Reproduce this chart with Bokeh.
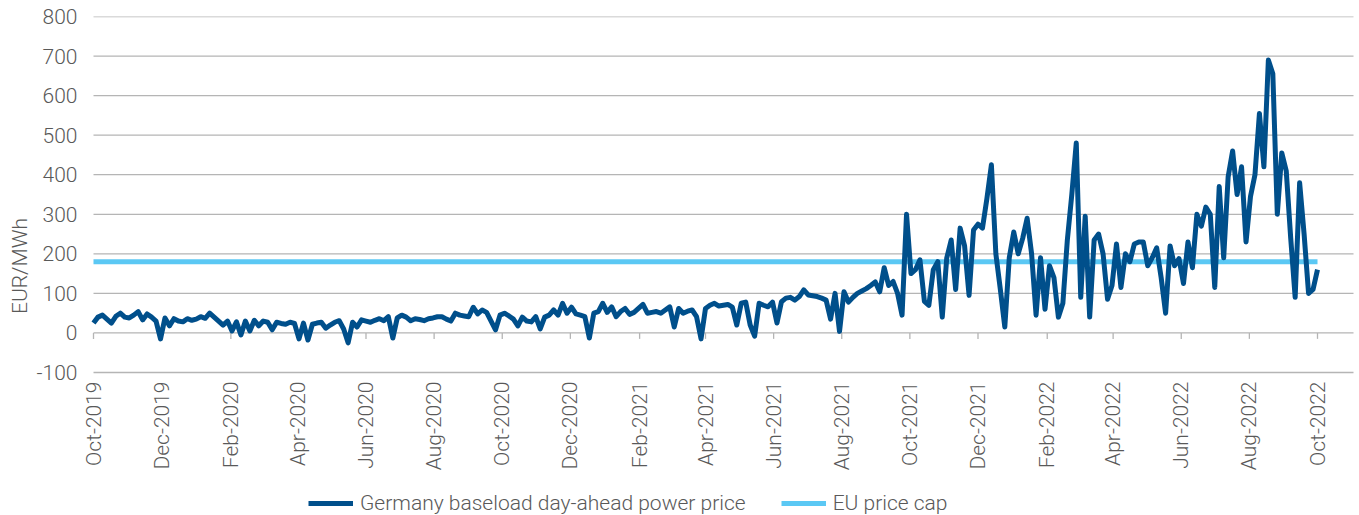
import math
import pandas as pd
from bokeh.plotting import figure
from bokeh.models import Range1d, FixedTicker, Legend, LegendItem, Title
from bokeh.core.properties import value
from bokeh.embed import file_html
from bokeh.resources import INLINE

# ---- data ----
start_date = "2019-10-01"
step_days = 4  # one reading every 4 days
price = [
    25, 40, 45, 35, 25, 42, 50, 40, 38, 45,
    54, 33, 48, 40, 30, -15, 38, 18, 36, 30,
    28, 36, 32, 35, 41, 37, 50, 40, 30, 20,
    30, 5, 28, -5, 30, 5, 32, 18, 30, 27,
    8, 27, 24, 22, 27, 24, -15, 25, -18, 22,
    25, 27, 12, 20, 27, 31, 10, -25, 27, 15,
    33, 30, 27, 32, 36, 31, 41, -13, 38, 45,
    40, 31, 36, 34, 31, 36, 38, 41, 41, 35,
    30, 50, 45, 43, 41, 65, 48, 58, 52, 30,
    8, 45, 50, 43, 35, 18, 40, 30,
    28, 41, 10, 40, 45, 58, 45, 75, 50, 65,
    48, 45, 41, -13, 50, 54, 75, 52, 66, 41,
    54, 62, 47, 52, 62, 72, 50, 52, 54, 50,
    58, 66, 15, 62, 50, 55, 58, 41, -15, 62,
    70, 75, 68, 70, 72, 65, 20, 75, 78, 20,
    -8, 75, 70, 66, 78, 25, 79, 88, 90, 83,
    92, 109, 96, 94, 92, 88, 83, 35, 100, 4,
    104, 78, 90, 100, 106, 112, 120, 129, 104,
    165, 120, 130, 100, 45,
    300, 150, 160, 185, 80, 70, 160, 180, 40, 189,
    235, 110, 265, 220, 95, 260, 275, 265, 340, 425,
    200, 110, 15, 190, 255, 200, 239, 290, 200, 45,
    190, 60, 170, 140, 40, 75, 235, 350, 480, 90,
    295, 40, 235, 250, 200, 85, 120, 225, 115, 200,
    180, 225, 230, 230, 170, 190, 215, 140, 50, 220,
    170, 188, 125, 230, 165, 300, 270, 318, 300, 115,
    370, 190, 395, 460, 350, 420, 230, 345, 400, 555,
    420, 690, 655, 300, 455, 410, 240, 90, 380, 250,
    100, 110, 160,
]
cap_dates = ["2019-10-01", "2022-10-01"]
cap_values = [180, 180]
x_tick_dates = list(pd.date_range("2019-10-01", "2022-10-01", freq="2MS"))
x_tick_labels = [d.strftime("%b-%Y") for d in x_tick_dates]
y_ticks = [-100, 0, 100, 200, 300, 400, 500, 600, 700, 800]
series_names = ["Germany baseload day-ahead power price", "EU price cap"]
y_title = "EUR/MWh"

# ---- styling / layout ----
DARK = "#004f8b"
LIGHT = "#5bc8f4"
GRID = "#b5b5b5"
TEXT = "#595959"
FONT = "Roboto Light"
FS = "21px"

W, H = 1359, 515
FRAME_LEFT = 78          # frame starts a bit left of the first date so its label is not clipped
X0_PX = 93               # pixel of the first date
TOP_PX, BOT_PX = 16, 372 # pixels of 800 and -100
PX_PER_DAY = (1317 - 93) / 1096.0

dates = pd.date_range(start_date, periods=len(price), freq=f"{step_days}D")
t0 = pd.Timestamp(start_date)
x_start = t0 - pd.Timedelta(days=(X0_PX - FRAME_LEFT) / PX_PER_DAY)
x_end = x_start + pd.Timedelta(days=(W - FRAME_LEFT) / PX_PER_DAY)
grid_end = t0 + pd.Timedelta(days=(1353 - X0_PX) / PX_PER_DAY)

px_per_unit = (BOT_PX - TOP_PX) / 900.0
y_bottom = -100 - (H - BOT_PX) / px_per_unit

p = figure(width=W, height=H, x_axis_type="datetime",
           output_backend="svg", toolbar_location=None,
           x_range=Range1d(x_start, x_end),
           y_range=Range1d(y_bottom, 800),
           x_axis_location=None,
           min_border_left=FRAME_LEFT, min_border_right=0, min_border_top=TOP_PX,
           min_border_bottom=0)
p.outline_line_color = None
p.background_fill_color = "white"
p.border_fill_color = "white"
p.xgrid.grid_line_color = None
p.ygrid.grid_line_color = None

# horizontal gridlines, from the first date to the right edge
p.segment(x0=[t0] * len(y_ticks), y0=y_ticks, x1=[grid_end] * len(y_ticks), y1=y_ticks,
          line_color=GRID, line_width=1.3)

# tick marks on the zero line
p.segment(x0=x_tick_dates, y0=[0] * len(x_tick_dates), x1=x_tick_dates,
          y1=[-15] * len(x_tick_dates), line_color=GRID, line_width=1.3)

# x tick labels (vertical), hanging below the -100 gridline
p.text(x=x_tick_dates, y=[-100] * len(x_tick_dates), text=x_tick_labels,
       angle=math.pi / 2, text_align="right", text_baseline="middle",
       y_offset=9, text_font=value(FONT), text_font_size=FS, text_color=TEXT)

r_cap = p.line(pd.to_datetime(cap_dates), cap_values, line_color=LIGHT, line_width=5)
r_price = p.line(dates, price, line_color=DARK, line_width=5, line_join="round")

# y axis
ax = p.yaxis
ax.axis_line_color = None
ax.major_tick_line_color = None
ax.minor_tick_line_color = None
ax.major_tick_out = 0
ax.major_tick_in = 0
ax.major_label_text_font = FONT
ax.major_label_text_font_size = FS
ax.major_label_text_color = TEXT
ax.ticker = FixedTicker(ticks=y_ticks)
ax.major_label_overrides = {t: str(t) for t in y_ticks}
ax.major_label_standoff = 1

# y title, centred on the -100..800 band
frame_mid = (TOP_PX + H) / 2.0
band_mid = (TOP_PX + BOT_PX) / 2.0
p.add_layout(Title(text=y_title, align="center", offset=frame_mid - band_mid,
                   text_font=FONT, text_font_size=FS, text_font_style="normal",
                   text_color=TEXT, standoff=4), "left")

legend = Legend(items=[LegendItem(label=series_names[0], renderers=[r_price]),
                       LegendItem(label=series_names[1], renderers=[r_cap])],
                location=(230, 0), orientation="horizontal",
                label_text_font=FONT, label_text_font_size=FS, label_text_color=TEXT,
                glyph_width=45, glyph_height=20, label_standoff=7, spacing=35,
                padding=0, margin=0, border_line_color=None,
                background_fill_alpha=0)
p.add_layout(legend)

open("out.html", "w").write(file_html(p, INLINE))
